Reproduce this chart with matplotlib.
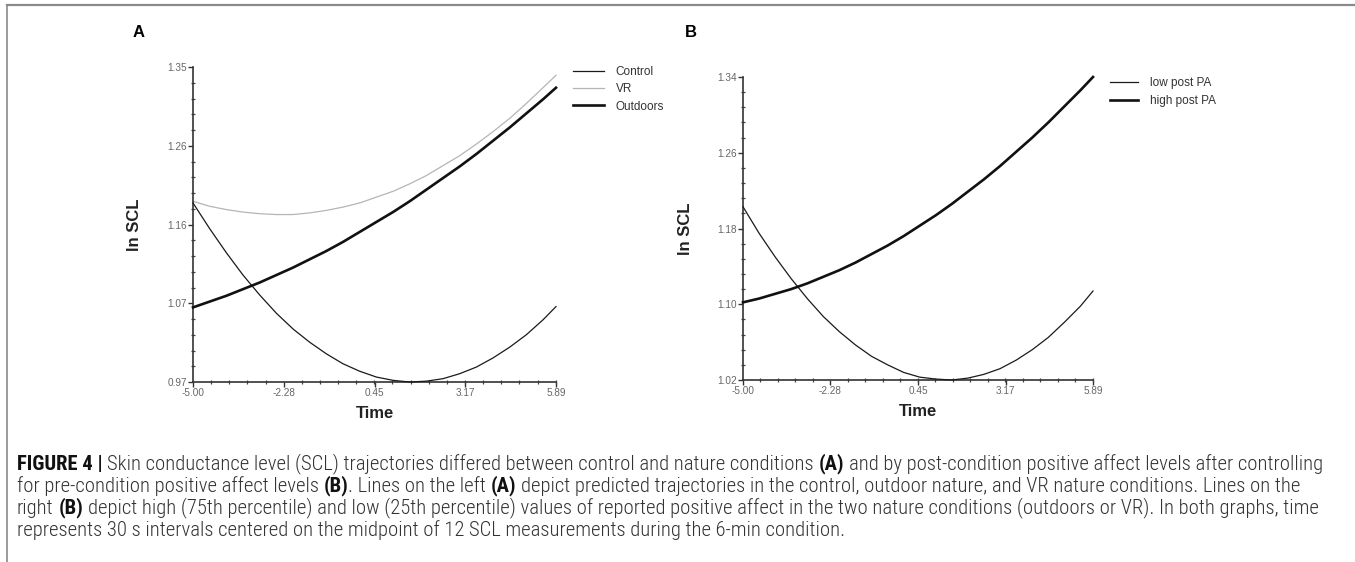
import matplotlib
matplotlib.use('Agg')
import matplotlib.pyplot as plt
from matplotlib import font_manager as fm
from matplotlib.lines import Line2D
from matplotlib.ticker import FixedLocator, AutoMinorLocator

# ---------------- data ----------------
time = [-5.0, -4.5, -4.0, -3.5, -3.0, -2.5, -2.0, -1.5, -1.0, -0.5, 0.0, 0.5,
        1.0, 1.5, 2.0, 2.5, 3.0, 3.5, 4.0, 4.5, 5.0, 5.5, 5.89]

control = [1.186, 1.155, 1.126, 1.099, 1.075, 1.053, 1.034, 1.018, 1.004, 0.992,
           0.983, 0.976, 0.972, 0.970, 0.971, 0.974, 0.980, 0.988, 0.999, 1.012,
           1.027, 1.045, 1.061]
vr = [1.188, 1.182, 1.178, 1.175, 1.173, 1.172, 1.172, 1.174, 1.177, 1.181,
      1.186, 1.193, 1.200, 1.209, 1.219, 1.231, 1.243, 1.257, 1.272, 1.288,
      1.306, 1.325, 1.340]
outdoors = [1.060, 1.067, 1.074, 1.082, 1.090, 1.099, 1.108, 1.118, 1.128, 1.139,
            1.151, 1.163, 1.175, 1.188, 1.202, 1.216, 1.230, 1.245, 1.261, 1.277,
            1.294, 1.311, 1.325]

low_post_pa = [1.203, 1.175, 1.150, 1.127, 1.106, 1.087, 1.071, 1.057, 1.045, 1.036,
               1.028, 1.023, 1.021, 1.020, 1.022, 1.026, 1.032, 1.041, 1.052, 1.065,
               1.081, 1.098, 1.114]
high_post_pa = [1.102, 1.106, 1.111, 1.116, 1.122, 1.129, 1.136, 1.144, 1.153, 1.162,
                1.172, 1.183, 1.194, 1.206, 1.219, 1.232, 1.246, 1.261, 1.276, 1.292,
                1.309, 1.326, 1.340]

legend_a = ["Control", "VR", "Outdoors"]
legend_b = ["low post PA", "high post PA"]

xticks = [-5.00, -2.28, 0.45, 3.17, 5.89]
xtick_labels = ["-5.00", "-2.28", "0.45", "3.17", "5.89"]
yticks_a = [0.97, 1.065, 1.16, 1.255, 1.35]
ytick_labels_a = ["0.97", "1.07", "1.16", "1.26", "1.35"]
yticks_b = [1.02, 1.10, 1.18, 1.26, 1.34]
ytick_labels_b = ["1.02", "1.10", "1.18", "1.26", "1.34"]

caption_lines = [
    [("FIGURE 4 |", True), ("Skin conductance level (SCL) trajectories differed between control and nature conditions", False),
     ("(A)", True), ("and by post-condition positive affect levels after controlling", False)],
    [("for pre-condition positive affect levels", False), ("(B)", True), (". Lines on the left", False, "nospace"),
     ("(A)", True), ("depict predicted trajectories in the control, outdoor nature, and VR nature conditions. Lines on the", False)],
    [("right", False), ("(B)", True), ("depict high (75th percentile) and low (25th percentile) values of reported positive affect in the two nature conditions (outdoors or VR). In both graphs, time", False)],
    [("represents 30 s intervals centered on the midpoint of 12 SCL measurements during the 6-min condition.", False)],
]

# ---------------- figure ----------------
W, H = 1355, 562
fig = plt.figure(figsize=(W / 100, H / 100), dpi=100)
fig.patch.set_facecolor('white')

FONT = 'Liberation Sans'
plt.rcParams['font.family'] = [FONT, 'DejaVu Sans']

# frame lines (top and left)
fig.add_artist(Line2D([7 / W, 1.0], [1 - 5 / H, 1 - 5 / H], transform=fig.transFigure,
                      color='#8a8a8a', lw=1.6))
fig.add_artist(Line2D([7 / W, 7 / W], [0, 1 - 5 / H], transform=fig.transFigure,
                      color='#8a8a8a', lw=1.2))

axA = fig.add_axes([193 / W, 1 - 382 / H, (556 - 193) / W, (382 - 67) / H])
axB = fig.add_axes([743 / W, 1 - 380 / H, (1093 - 743) / W, (380 - 77) / H])


def style_axis(ax, yt, ytl, ylim):
    ax.set_xlim(-5.0, 5.89)
    ax.set_ylim(*ylim)
    for s in ('top', 'right'):
        ax.spines[s].set_visible(False)
    for s in ('left', 'bottom'):
        ax.spines[s].set_color('#333333')
        ax.spines[s].set_linewidth(1.2)
    ax.xaxis.set_major_locator(FixedLocator(xticks))
    ax.set_xticklabels(xtick_labels)
    ax.yaxis.set_major_locator(FixedLocator(yt))
    ax.set_yticklabels(ytl)
    ax.xaxis.set_minor_locator(AutoMinorLocator(5))
    ax.yaxis.set_minor_locator(AutoMinorLocator(5))
    ax.tick_params(which='major', direction='out', length=3.5, width=1.0, color='#333333',
                   labelsize=7.2, labelcolor='#666666', pad=1.0)
    ax.tick_params(which='minor', direction='inout', length=3.0, width=0.9, color='#444444')
    ax.set_xlabel('Time', fontsize=12, fontweight='bold', color='#222222')
    ax.set_ylabel('ln SCL', fontsize=12, fontweight='bold', color='#222222')
    ax.set_facecolor('none')


style_axis(axA, yticks_a, ytick_labels_a, (0.97, 1.35))
style_axis(axB, yticks_b, ytick_labels_b, (1.02, 1.34))

hA1, = axA.plot(time, control, color='#1a1a1a', lw=0.9, clip_on=False, zorder=3)
hA2, = axA.plot(time, vr, color='#b5b5b5', lw=0.9, clip_on=False, zorder=2)
hA3, = axA.plot(time, outdoors, color='#111111', lw=1.9, clip_on=False, zorder=4)

hB1, = axB.plot(time, low_post_pa, color='#1a1a1a', lw=0.9, clip_on=False, zorder=3)
hB2, = axB.plot(time, high_post_pa, color='#111111', lw=1.9, clip_on=False, zorder=4)

axA.xaxis.set_label_coords(0.5, -(406 - 382) / (382 - 67))
axB.xaxis.set_label_coords(0.5, -(404 - 380) / (380 - 77))
axA.yaxis.set_label_coords(-(193 - 142) / (556 - 193), 0.5)
axB.yaxis.set_label_coords(-(743 - 693) / (1093 - 743), 0.5)

legA = axA.legend([hA1, hA2, hA3], legend_a, loc='upper left',
                  bbox_to_anchor=(573 / W, 1 - 66 / H), bbox_transform=fig.transFigure,
                  frameon=False, borderpad=0, borderaxespad=0, handlelength=2.6,
                  handletextpad=1.0, labelspacing=0.45, prop={'family': FONT, 'size': 8.5})
for t in legA.get_texts():
    t.set_color('#333333')

legB = axB.legend([hB1, hB2], legend_b, loc='upper left',
                  bbox_to_anchor=(1110 / W, 1 - 77 / H), bbox_transform=fig.transFigure,
                  frameon=False, borderpad=0, borderaxespad=0, handlelength=2.4,
                  handletextpad=1.0, labelspacing=0.55, prop={'family': FONT, 'size': 8.5})
for t in legB.get_texts():
    t.set_color('#333333')

fig.text(133 / W, 1 - 25 / H, 'A', fontsize=12, fontweight='bold', va='top', ha='left', color='black')
fig.text(685 / W, 1 - 25 / H, 'B', fontsize=12, fontweight='bold', va='top', ha='left', color='black')

# ---------------- caption ----------------
names = {f.name for f in fm.fontManager.ttflist}
cap_family = FONT
for cand in ['Liberation Sans Narrow', 'Roboto Condensed', 'Open Sans Condensed', 'DejaVu Sans Condensed']:
    if cand in names:
        cap_family = cand
        break

NORMAL_W = 'light'
renderer = fig.canvas.get_renderer()


def measure(s, size, bold):
    t = fig.text(0, 0, s, fontsize=size, fontweight='bold' if bold else NORMAL_W, family=cap_family)
    w = t.get_window_extent(renderer).width
    t.remove()
    return w


def space_width(size):
    return measure('n n', size, False) - measure('nn', size, False)


def line_width(runs, size):
    total = 0.0
    sw = space_width(size)
    for i, r in enumerate(runs):
        if i > 0 and not (len(r) > 2 and r[2] == 'nospace'):
            total += sw
        total += measure(r[0], size, r[1])
    return total


base = 10.0
w1 = line_width(caption_lines[0], base)
cap_size = base * (1322 - 17) / w1

line_y = [464, 486, 508, 530]
sw = space_width(cap_size)
for runs, yy in zip(caption_lines, line_y):
    x = 17.0
    for i, r in enumerate(runs):
        if i > 0 and not (len(r) > 2 and r[2] == 'nospace'):
            x += sw
        t = fig.text(x / W, 1 - yy / H, r[0], fontsize=cap_size,
                     fontweight='bold' if r[1] else NORMAL_W, family=cap_family,
                     color='#111111' if r[1] else '#333333', va='center', ha='left')
        x += t.get_window_extent(renderer).width

fig.savefig('out.png', dpi=100)
